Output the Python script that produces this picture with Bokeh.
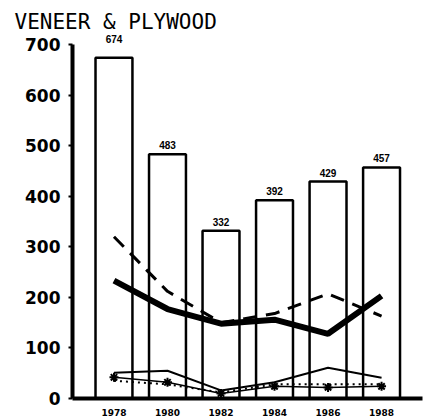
from bokeh.plotting import figure
from bokeh.models import Range1d, FixedTicker, ColumnDataSource
from bokeh.embed import file_html
from bokeh.resources import INLINE

# ---- data ----
title_text = "VENEER & PLYWOOD"
years = [1978, 1980, 1982, 1984, 1986, 1988]
totals = [674, 483, 332, 392, 429, 457]
series_thick = [233, 177, 148, 156, 128, 203]
series_dashed = [320, 212, 150, 168, 207, 163]
series_thin = [51, 55, 16, 32, 61, 41]
series_star = [42, 32, 10, 24, 22, 24]
series_dot = [35, 28, 12, 28, 28, 28]
y_ticks = [0, 100, 200, 300, 400, 500, 600, 700]

# label pixel offsets (style)
label_offsets = [-15, -5, -5, -5, -5, -5]

p = figure(width=426, height=419,
           x_range=Range1d(1976.45, 1989.53), y_range=Range1d(0, 722),
           output_backend="svg", toolbar_location=None,
           min_border_left=72, min_border_right=4, min_border_top=33,
           min_border_bottom=21)
p.outline_line_color = None
p.grid.visible = False
p.background_fill_color = "white"
p.border_fill_color = "white"

p.title.text = title_text
p.title.text_font = "DejaVu Sans Mono"
p.title.text_font_size = "21px"
p.title.text_font_style = "normal"
p.title.text_color = "black"
p.title.align = "left"
p.title.offset = -58
p.title.standoff = 0

# x axis
xa = p.xaxis[0]
xa.ticker = FixedTicker(ticks=years)
xa.axis_line_width = 4
xa.axis_line_color = "black"
xa.major_tick_line_color = None
xa.minor_tick_line_color = None
xa.major_label_text_font = "DejaVu Sans"
xa.major_label_text_font_style = "bold"
xa.major_label_text_font_size = "9px"
xa.major_label_standoff = 4
xa.major_label_text_color = "black"

# y axis
ya = p.yaxis[0]
ya.ticker = FixedTicker(ticks=y_ticks)
ya.bounds = (0, 700)
ya.axis_line_width = 4
ya.axis_line_color = "black"
ya.major_tick_out = 4
ya.major_tick_in = 0
ya.major_tick_line_width = 2
ya.minor_tick_line_color = None
ya.major_label_text_font = "DejaVu Sans"
ya.major_label_text_font_style = "bold"
ya.major_label_text_font_size = "17px"
ya.major_label_standoff = 8
ya.major_label_text_color = "black"

# bars
p.vbar(x=years, top=totals, width=1.38, fill_color="white",
       line_color="black", line_width=2.5)

src = ColumnDataSource(dict(x=years, y=totals,
                            t=[str(v) for v in totals], yoff=label_offsets))
p.text(x="x", y="y", text="t", y_offset="yoff", source=src,
       text_align="center", text_baseline="bottom",
       text_font_size="10px", text_font_style="bold", text_color="black")

# lines
p.line(years, series_thick, line_color="black", line_width=6)
p.line(years, series_dashed, line_color="black", line_width=3, line_dash="14 9")
p.line(years, series_thin, line_color="black", line_width=2)
p.line(years, series_star, line_color="black", line_width=1.5)
p.scatter(years, series_star, marker="asterisk", size=9, line_color="black", line_width=2)
p.line(years, series_dot, line_color="black", line_width=2, line_dash="2 4")

open("out.html", "w").write(file_html(p, INLINE))
